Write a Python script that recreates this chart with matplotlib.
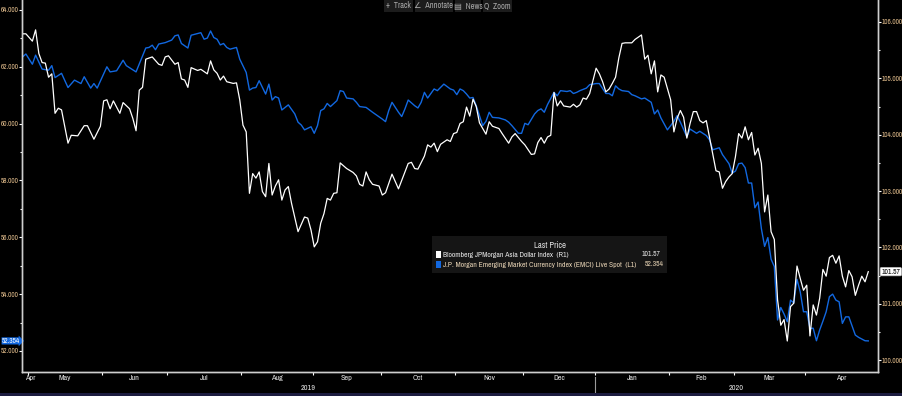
import numpy as np
import pandas as pd
import matplotlib
matplotlib.use('Agg')
import matplotlib.pyplot as plt
import matplotlib.transforms as mtransforms
from matplotlib.patches import Rectangle

plt.rcParams['font.family'] = ['Archivo Narrow', 'Liberation Sans', 'DejaVu Sans']

# x values are trading days counted from 29 Apr 2019
asia_day = [0, 1, 3, 4, 5, 6, 7, 8, 9, 10, 11, 12, 14, 15, 17, 19, 20, 22, 24, 25,
            26, 27, 28, 30, 31, 33, 34, 35, 36, 37, 38, 40, 42, 43, 44, 45, 47, 48, 49, 50,
            51, 52, 54, 55, 57, 58, 59, 60, 61, 62, 63, 65, 66, 67, 68, 69, 70, 71, 72, 73,
            74, 75, 76, 77, 78, 79, 80, 81, 82, 83, 85, 87, 88, 89, 90, 91, 92, 93, 94, 95,
            96, 97, 98, 100, 102, 103, 104, 105, 106, 107, 108, 110, 111, 112, 114, 116, 119, 120, 121, 122,
            124, 125, 126, 127, 128, 129, 131, 132, 133, 134, 135, 136, 137, 138, 139, 140, 141, 143, 144, 145,
            147, 148, 150, 151, 152, 154, 155, 157, 158, 159, 160, 161, 162, 163, 164, 165, 166, 167, 169, 170,
            171, 172, 173, 174, 175, 177, 178, 179, 180, 181, 182, 183, 184, 185, 186, 188, 189, 191, 192, 193,
            194, 195, 196, 197, 198, 199, 200, 201, 202, 203, 204, 205, 206, 207, 208, 209, 210, 211, 212, 214,
            215, 216, 217, 218, 219, 220, 221, 222, 223, 224, 225, 226, 227, 228, 229, 230, 231, 232, 233, 234,
            235, 236, 237, 238, 239, 240, 241, 242, 243, 244, 245, 246, 247, 248, 249, 250, 251, 252, 253, 254,
            255, 256, 257, 258, 259, 260, 261]
asia_px = [105.79, 105.79, 105.66, 105.86, 105.44, 105.28, 105.27, 105.02, 105.08, 104.38,
           104.47, 104.44, 103.85, 103.99, 103.98, 104.16, 104.16, 103.92, 104.15, 104.60,
           104.62, 104.46, 104.60, 104.38, 104.57, 104.46, 104.29, 104.07, 104.79, 104.84,
           105.34, 105.38, 105.25, 105.23, 105.38, 105.40, 105.25, 105.28, 104.99, 104.97,
           104.84, 105.19, 105.14, 105.16, 105.08, 105.31, 105.15, 105.09, 104.97, 105.04,
           104.94, 104.91, 104.92, 104.62, 104.17, 104.05, 102.96, 103.31, 103.23, 103.34,
           102.99, 102.90, 103.49, 102.93, 103.09, 103.20, 102.84, 103.02, 103.08, 102.78,
           102.28, 102.54, 102.52, 102.31, 102.01, 102.10, 102.43, 102.60, 102.87, 102.84,
           102.96, 102.97, 103.50, 103.40, 103.33, 103.27, 103.12, 103.09, 103.34, 103.20,
           103.12, 103.09, 102.93, 102.97, 103.30, 103.04, 103.49, 103.51, 103.40, 103.39,
           103.62, 103.82, 103.78, 103.85, 103.70, 103.83, 103.91, 103.88, 104.02, 104.04,
           104.20, 104.23, 104.49, 104.33, 104.63, 104.50, 104.21, 104.01, 104.23, 104.15,
           104.11, 104.02, 103.85, 103.96, 104.02, 103.88, 103.82, 103.65, 103.66, 103.86,
           103.95, 103.85, 103.96, 103.99, 104.75, 104.51, 104.60, 104.51, 104.49, 104.54,
           104.49, 104.53, 104.65, 104.63, 104.73, 105.18, 105.08, 104.94, 104.76, 104.81,
           104.91, 105.02, 105.36, 105.62, 105.63, 105.63, 105.69, 105.77, 105.34, 105.41,
           105.08, 105.31, 104.76, 105.06, 105.02, 104.82, 104.62, 104.05, 104.29, 104.43,
           104.31, 103.94, 104.20, 104.41, 104.41, 104.25, 104.21, 104.25, 103.95, 103.36,
           103.34, 103.05, 103.17, 103.25, 103.31, 103.61, 104.02, 103.94, 104.14, 103.91,
           104.04, 103.64, 103.76, 103.49, 102.63, 102.93, 102.28, 102.14, 101.07, 100.62,
           100.72, 100.34, 100.95, 101.01, 101.67, 101.45, 101.24, 101.33, 100.43, 100.98,
           100.80, 101.10, 101.61, 101.49, 101.82, 101.86, 101.72, 101.85, 101.49, 101.30,
           101.59, 101.48, 101.15, 101.33, 101.49, 101.39, 101.57]

emci_day = [0, 1, 3, 4, 6, 8, 9, 10, 12, 14, 16, 18, 19, 21, 22, 23, 26, 27, 29, 31,
            32, 35, 38, 39, 40, 41, 42, 44, 46, 47, 48, 49, 51, 52, 55, 56, 57, 58, 59, 60,
            61, 62, 63, 64, 66, 67, 69, 70, 71, 72, 73, 75, 76, 77, 78, 79, 80, 82, 84, 85,
            86, 87, 89, 90, 91, 92, 93, 94, 95, 97, 98, 99, 100, 102, 103, 104, 106, 108, 109, 111,
            112, 113, 114, 116, 117, 118, 119, 121, 122, 123, 124, 125, 127, 128, 130, 132, 133, 134, 135, 136,
            137, 138, 139, 140, 141, 142, 143, 144, 145, 147, 149, 150, 151, 153, 154, 155, 156, 158, 159, 160,
            161, 162, 164, 165, 166, 168, 169, 170, 171, 172, 174, 175, 177, 178, 180, 181, 182, 183, 184, 185,
            187, 188, 189, 191, 192, 194, 195, 196, 197, 199, 201, 202, 203, 205, 206, 208, 209, 211, 212, 213,
            215, 216, 218, 219, 220, 221, 222, 223, 224, 225, 226, 227, 228, 229, 230, 231, 232, 233, 234, 235,
            236, 237, 238, 239, 240, 241, 242, 243, 244, 245, 246, 247, 248, 249, 250, 251, 252, 253, 254, 255,
            256, 257, 258, 260, 261]
emci_px = [62.35, 62.45, 62.09, 62.41, 61.92, 61.88, 62.04, 61.62, 61.77, 61.27,
           61.53, 61.41, 61.65, 61.25, 61.41, 61.25, 62.00, 61.82, 61.86, 62.23,
           62.04, 61.82, 62.66, 62.68, 62.76, 62.60, 62.80, 62.85, 62.94, 63.09,
           63.12, 62.82, 62.66, 63.11, 63.20, 62.97, 63.01, 63.26, 63.03, 62.97,
           62.77, 62.82, 62.68, 62.62, 62.68, 62.27, 61.80, 61.18, 61.25, 61.27,
           61.51, 61.04, 61.39, 60.83, 60.95, 60.90, 60.48, 60.66, 60.34, 60.05,
           59.95, 59.78, 59.89, 59.66, 59.93, 60.46, 60.52, 60.71, 60.60, 60.81,
           61.16, 61.13, 60.90, 60.87, 60.75, 60.60, 60.57, 60.40, 60.32, 60.16,
           60.07, 60.46, 60.75, 60.40, 60.25, 60.52, 60.83, 60.63, 60.55, 60.75,
           61.10, 60.90, 61.22, 61.16, 61.39, 61.22, 61.18, 61.02, 61.22, 61.16,
           61.04, 60.90, 60.92, 60.63, 60.28, 59.93, 60.08, 60.40, 60.22, 60.20,
           60.13, 60.05, 59.93, 59.66, 59.66, 60.01, 59.96, 60.34, 60.46, 60.52,
           60.40, 60.67, 61.10, 60.98, 61.16, 61.13, 61.16, 61.06, 61.10, 61.16,
           61.25, 61.37, 61.41, 61.41, 61.06, 61.06, 60.98, 61.33, 61.22, 61.16,
           61.13, 61.02, 60.98, 60.87, 60.90, 60.75, 60.34, 60.48, 60.20, 59.78,
           60.08, 60.28, 60.05, 59.54, 59.81, 59.66, 59.73, 59.58, 59.43, 59.08,
           59.15, 58.91, 58.59, 58.26, 58.33, 58.59, 58.61, 58.45, 57.91, 57.91,
           57.04, 57.24, 56.31, 55.68, 55.99, 55.23, 54.97, 53.09, 53.53, 53.30,
           53.03, 53.79, 53.69, 54.52, 54.08, 53.38, 53.38, 52.80, 52.80, 52.36,
           52.74, 53.05, 53.38, 53.91, 54.00, 53.79, 53.73, 52.97, 53.20, 53.20,
           52.88, 52.56, 52.48, 52.36, 52.354]

asia_name = 'Bloomberg JPMorgan Asia Dollar Index  (R1)'
emci_name = 'J.P. Morgan Emerging Market Currency Index (EMCI) Live Spot  (L1)'
asia_last = '101.57'
emci_last = '52.354'

W, H = 902, 396
blue = '#1268e0'
lbl = '#e2bd8c'
bdays = pd.bdate_range('2019-04-29', periods=266)
x0, x1 = -0.2, 264.0
fs = 5.8

fig = plt.figure(figsize=(W / 100, H / 100), dpi=100, facecolor='black')
ax = fig.add_axes([22 / W, 24 / H, 856 / W, 372 / H], facecolor='black')
ax2 = ax.twinx()

ax.plot(emci_day, emci_px, color=blue, lw=1.0)
ax2.plot(asia_day, asia_px, color='white', lw=0.9)

ax.set_xlim(x0, x1)
ax.set_ylim(51.26, 64.35)
ax2.set_ylim(99.79, 106.39)

ax.set_yticks(np.arange(52, 65, 2))
ax.set_yticks(np.arange(53, 64, 2), minor=True)
ax.set_yticklabels(['%.3f' % v for v in np.arange(52, 65, 2)])
ax2.set_yticks(np.arange(100, 107, 1))
ax2.set_yticks(np.arange(100.5, 106, 1), minor=True)
ax2.set_yticklabels(['%.3f' % v for v in np.arange(100, 107, 1)])

for a in (ax, ax2):
    for s in a.spines.values():
        s.set_color('#cfcfcf')
        s.set_linewidth(1.0)
    a.spines['top'].set_visible(False)
    a.tick_params(axis='y', which='both', direction='out', color='white',
                  labelcolor=lbl, labelsize=5.2, pad=0.5, width=0.8)
    a.tick_params(axis='y', which='major', length=2)
    a.tick_params(axis='y', which='minor', length=1.5)

# month boundaries and month labels centred in each month
bounds = [i - 0.5 for i in range(1, len(bdays)) if bdays[i].month != bdays[i - 1].month]
bounds = [b for b in bounds if b < x1 - 2]
edges = [x0] + bounds + [x1]
centers = [(edges[k] + edges[k + 1]) / 2 for k in range(len(edges) - 1)]
names = [bdays[max(int(np.ceil(e)), 0)].strftime('%b') for e in edges[:-1]]
ax.set_xticks(bounds)
ax.set_xticklabels([])
ax.set_xticks(centers, minor=True)
ax.set_xticklabels(names, minor=True)
ax.tick_params(axis='x', which='major', direction='out', length=2.5, color='white', width=0.8)
ax.tick_params(axis='x', which='minor', length=0, labelsize=fs, labelcolor='#e6e6e6', pad=2)
for t in ax.get_xticklabels(minor=True)[:1]:
    t.set_ha('left')

# years row
blend = mtransforms.blended_transform_factory(ax.transData, ax.transAxes)
ybreak = [b for b in bounds if bdays[int(b + 0.5)].year == 2020][0]
ax.text((x0 + ybreak) / 2, -16 / 372, '2019', transform=blend, ha='center', va='center',
        fontsize=fs, color='#e6e6e6')
ax.text((ybreak + x1) / 2, -16 / 372, '2020', transform=blend, ha='center', va='center',
        fontsize=fs, color='#e6e6e6')
ax.plot([ybreak, ybreak], [-5 / 372, -21 / 372], transform=blend, clip_on=False,
        color='#9a9a9a', lw=0.8)

# last value tags
lblend = mtransforms.blended_transform_factory(ax.transAxes, ax.transData)
ax.text(-0.002, float(emci_last), emci_last, transform=lblend, ha='right', va='center',
        fontsize=5.2, color='white',
        bbox=dict(boxstyle='rarrow,pad=0.08', fc=blue, ec='none'))
rblend = mtransforms.blended_transform_factory(ax2.transAxes, ax2.transData)
ax2.text(1.004, float(asia_last), asia_last, transform=rblend, ha='left', va='center',
         fontsize=5.5, color='black',
         bbox=dict(boxstyle='round,pad=0.15', fc='white', ec='#cccccc', lw=0.5))


def px(x, y):
    return x / W, 1 - y / H


# legend panel
lfs = 5.5
fig.patches.append(Rectangle(px(432, 273), 235 / W, 37 / H, transform=fig.transFigure,
                             fc='#151515', ec='none', zorder=5))
fig.text(*px(550, 245.5), 'Last Price', ha='center', va='center', fontsize=6.2,
         color='#e0e0e0', zorder=6)
fig.patches.append(Rectangle(px(435.5, 258), 5 / W, 7 / H, transform=fig.transFigure,
                             fc='white', ec='none', zorder=6))
fig.patches.append(Rectangle(px(435.5, 268), 5 / W, 7 / H, transform=fig.transFigure,
                             fc=blue, ec='none', zorder=6))
fig.text(*px(443, 254.5), asia_name, ha='left', va='center', fontsize=lfs,
         color='#e6e6e6', zorder=6)
fig.text(*px(443, 264.5), emci_name, ha='left', va='center', fontsize=lfs,
         color='#e6d2b4', zorder=6)
fig.text(*px(660, 254.5), asia_last, ha='right', va='center', fontsize=lfs,
         color='#e6e6e6', zorder=6)
fig.text(*px(664, 264.5), emci_last, ha='right', va='center', fontsize=lfs,
         color='#e6d2b4', zorder=6)

# toolbar
tools = [('+  Track', 384, 413), ('\u2220  Annotate', 415, 453),
         ('\u25a4  News', 455, 481), ('Q  Zoom', 483, 512)]
for name, a, b in tools:
    fig.patches.append(Rectangle(px(a, 12), (b - a) / W, 12 / H, transform=fig.transFigure,
                                 fc='#1c1c1c', ec='none', zorder=5))
    fig.text(*px((a + b) / 2, 6), name, ha='center', va='center', fontsize=6,
             color='#a8a8a8', zorder=6,
             family=['Archivo Narrow', 'DejaVu Sans'])

# bottom strip
fig.patches.append(Rectangle((0, 0), 1, 3 / H, transform=fig.transFigure,
                             fc='#1c1c40', ec='none'))

fig.savefig('out.png', dpi=100, facecolor='black')
